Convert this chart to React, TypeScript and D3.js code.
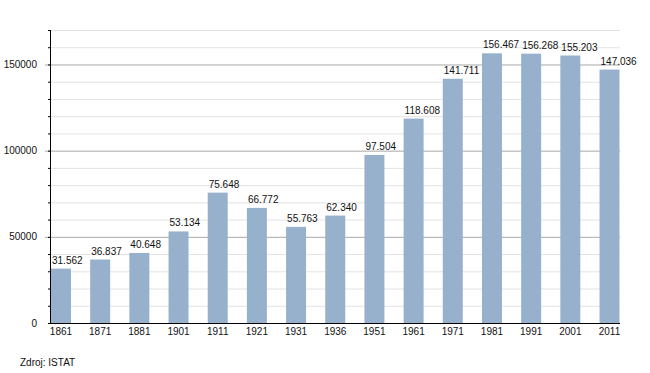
import React, { useEffect, useRef } from 'react';
import * as d3 from 'd3';

const years = ['1861', '1871', '1881', '1901', '1911', '1921', '1931', '1936', '1951', '1961', '1971', '1981', '1991', '2001', '2011'];
const population = [31562, 36837, 40648, 53134, 75648, 66772, 55763, 62340, 97504, 118608, 141711, 156467, 156268, 155203, 147036];
const valueLabels = ['31.562', '36.837', '40.648', '53.134', '75.648', '66.772', '55.763', '62.340', '97.504', '118.608', '141.711', '156.467', '156.268', '155.203', '147.036'];
const majorTicks = [0, 50000, 100000, 150000];
const minorTicks = d3.range(0, 170001, 10000);

const App: React.FC = () => {
  const svgRef = useRef<SVGSVGElement>(null);

  useEffect(() => {
    if (!svgRef.current) return;
    const svg = d3.select(svgRef.current);
    svg.selectAll('*').remove();

    const left = 50;
    const right = 620;
    const top = 30;
    const bottom = 323;
    const font = 'Liberation Sans, Arial, sans-serif';

    const x = d3.scaleBand<string>()
      .domain(years)
      .range([51, 619.5])
      .paddingInner(0.49)
      .paddingOuter(0);

    const y = d3.scaleLinear()
      .domain([0, 170000])
      .range([bottom, top]);

    // minor gridlines
    svg.append('g')
      .selectAll('line')
      .data(minorTicks.filter(t => t % 50000 !== 0))
      .join('line')
        .attr('x1', left)
        .attr('x2', right)
        .attr('y1', d => y(d) + 0.5)
        .attr('y2', d => y(d) + 0.5)
        .attr('stroke', '#e3e3e3')
        .attr('stroke-width', 1);

    // major gridlines
    svg.append('g')
      .selectAll('line')
      .data(majorTicks.filter(t => t > 0))
      .join('line')
        .attr('x1', left - 5)
        .attr('x2', right)
        .attr('y1', d => y(d) + 0.5)
        .attr('y2', d => y(d) + 0.5)
        .attr('stroke', '#a8a8a8')
        .attr('stroke-width', 1);

    // bars
    svg.append('g')
      .selectAll('rect')
      .data(years)
      .join('rect')
        .attr('x', d => x(d) || 0)
        .attr('y', (d, i) => y(population[i]))
        .attr('width', x.bandwidth())
        .attr('height', (d, i) => y(0) - y(population[i]))
        .attr('fill', '#97b1cd');

    // value labels
    svg.append('g')
      .attr('font-family', font)
      .attr('font-size', 10)
      .attr('fill', '#111')
      .selectAll('text')
      .data(years)
      .join('text')
        .attr('x', d => (x(d) || 0) + 1)
        .attr('y', (d, i) => y(population[i]) - 5)
        .text((d, i) => valueLabels[i]);

    // y axis
    const yAxis = svg.append('g');
    yAxis.append('line')
      .attr('x1', left + 0.5).attr('x2', left + 0.5)
      .attr('y1', top).attr('y2', bottom)
      .attr('stroke', '#000');
    yAxis.selectAll('line.minor')
      .data(minorTicks)
      .join('line')
        .attr('class', 'minor')
        .attr('x1', left - 2)
        .attr('x2', left)
        .attr('y1', d => y(d) + 0.5)
        .attr('y2', d => y(d) + 0.5)
        .attr('stroke', '#000');
    yAxis.selectAll('text')
      .data(majorTicks)
      .join('text')
        .attr('x', 37)
        .attr('y', d => y(d))
        .attr('dy', '0.35em')
        .attr('text-anchor', 'end')
        .attr('font-family', font)
        .attr('font-size', 10)
        .attr('fill', '#111')
        .text(d => String(d));

    // x axis
    const xAxis = svg.append('g');
    xAxis.append('line')
      .attr('x1', left).attr('x2', right)
      .attr('y1', bottom + 0.5).attr('y2', bottom + 0.5)
      .attr('stroke', '#000');
    xAxis.selectAll('text')
      .data(years)
      .join('text')
        .attr('x', d => (x(d) || 0) + x.bandwidth() / 2)
        .attr('y', 335)
        .attr('text-anchor', 'middle')
        .attr('font-family', font)
        .attr('font-size', 10)
        .attr('fill', '#111')
        .text(d => d);

    svg.append('text')
      .attr('x', 20)
      .attr('y', 366)
      .attr('font-family', font)
      .attr('font-size', 10)
      .attr('fill', '#111')
      .text('Zdroj: ISTAT');
  }, []);

  return (
    <div style={{ position: 'absolute', left: 0, top: 0, width: 650, height: 373, background: '#fff' }}>
      <svg ref={svgRef} width={650} height={373}></svg>
    </div>
  );
};

export default App;
